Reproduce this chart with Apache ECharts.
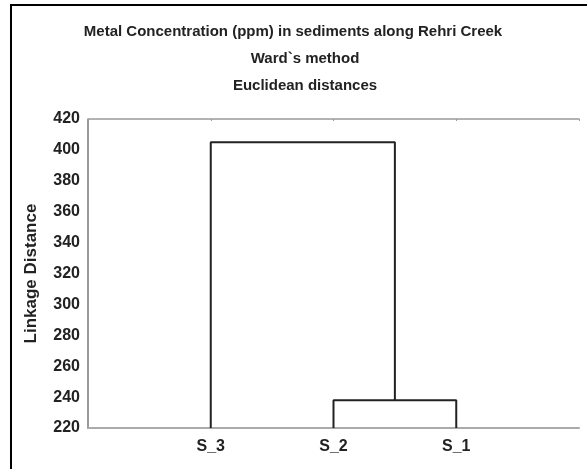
<!DOCTYPE html>
<html>
<head>
<meta charset="utf-8">
<script src="https://cdn.jsdelivr.net/npm/echarts@6/dist/echarts.min.js"></script>
<style>
  html, body { margin: 0; padding: 0; background: #fff; }
  #chart { width: 587px; height: 469px; }
</style>
</head>
<body>
<div id="chart"></div>
<script>
// leaf order as drawn on the x axis
const leaves = ['S_3', 'S_2', 'S_1'];
// merges: [left member, right member, linkage distance]
const merges = [
  ['S_2', 'S_1', 238],
  ['S_3', 'C1', 405]
];
const yTicks = [220, 240, 260, 280, 300, 320, 340, 360, 380, 400, 420];
const titleLines = ['Metal Concentration (ppm) in sediments along Rehri Creek', 'Ward`s method', 'Euclidean distances'];

const yMin = yTicks[0], yMax = yTicks[yTicks.length - 1];
const nodes = {};
leaves.forEach((l, i) => { nodes[l] = { x: i + 1, h: yMin }; });

const series = merges.map((m, i) => {
  const a = nodes[m[0]], b = nodes[m[1]];
  nodes['C' + (i + 1)] = { x: (a.x + b.x) / 2, h: m[2] };
  return {
    type: 'line', symbol: 'none', silent: true,
    lineStyle: { color: '#222', width: 2 },
    data: [[a.x, a.h], [a.x, m[2]], [b.x, m[2]], [b.x, b.h]]
  };
});

const font = '"Liberation Sans", Arial, sans-serif';
const titlePos = [[288, 19], [300, 46], [300, 73]];
const chart = echarts.init(document.getElementById('chart'));
chart.setOption({
  animation: false,
  title: titleLines.map((t, i) => ({
    text: t, left: titlePos[i][0], top: titlePos[i][1], textAlign: 'center',
    textStyle: { fontFamily: font, fontSize: 15, fontWeight: 'bold', color: '#222' }
  })),
  graphic: [{
    type: 'rect', shape: { x: 11, y: 5, width: 600, height: 500 },
    style: { fill: 'none', stroke: '#000', lineWidth: 2 }, silent: true
  }],
  grid: { left: 88, right: 8, top: 119, bottom: 41 },
  xAxis: [{
    type: 'value', min: 0, max: leaves.length + 1, interval: 1,
    axisLine: { lineStyle: { color: '#aaa', width: 2 } },
    axisTick: { show: false },
    splitLine: { show: false },
    axisLabel: {
      margin: 11, color: '#222', fontFamily: font, fontSize: 16, fontWeight: 'bold',
      formatter: v => leaves[v - 1] || ''
    }
  }, {
    type: 'value', position: 'top', min: 0, max: leaves.length + 1, interval: 1,
    axisLine: { lineStyle: { color: '#999', width: 1.5 } },
    axisTick: { show: true, inside: true, length: 2, lineStyle: { color: '#999' } },
    axisLabel: { show: false }, splitLine: { show: false }
  }],
  yAxis: [{
    type: 'value', min: yMin, max: yMax, interval: 20,
    name: 'Linkage Distance', nameLocation: 'middle', nameGap: 48, nameRotate: 90,
    nameTextStyle: { fontFamily: font, fontSize: 17, fontWeight: 'bold', color: '#222' },
    axisLine: { show: true, lineStyle: { color: '#999', width: 2, type: [2, 1] } },
    axisTick: { show: false },
    splitLine: { show: false },
    axisLabel: { margin: 8, color: '#222', fontFamily: font, fontSize: 16, fontWeight: 'bold' }
  }, {
    type: 'value', position: 'right', min: yMin, max: yMax, interval: 20,
    axisLine: { show: true, lineStyle: { color: '#999', width: 2, type: [2, 1] } },
    axisTick: { show: false }, axisLabel: { show: false }, splitLine: { show: false }
  }],
  series
});
</script>
</body>
</html>
